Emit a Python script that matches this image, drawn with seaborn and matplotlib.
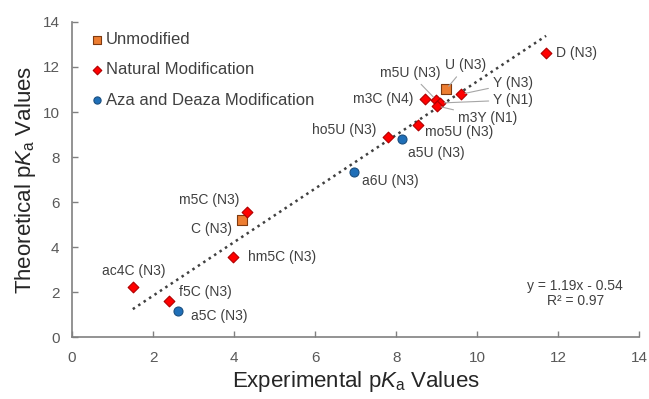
import numpy as np
import pandas as pd
import matplotlib.pyplot as plt
import seaborn as sns

# values
names = ['D (N3)', 'U (N3)', 'm5U (N3)', 'Y (N3)', 'Y (N1)', 'm3C (N4)', 'm3Y (N1)',
         'mo5U (N3)', 'ho5U (N3)', 'a5U (N3)', 'a6U (N3)', 'm5C (N3)', 'C (N3)',
         'hm5C (N3)', 'ac4C (N3)', 'f5C (N3)', 'a5C (N3)']
experimental = [11.7, 9.23, 8.99, 9.6, 9.09, 8.72, 9.01, 8.54, 7.79, 8.14, 6.96,
                4.31, 4.19, 3.98, 1.5, 2.4, 2.62]
theoretical = [12.64, 11.0, 10.53, 10.79, 10.4, 10.58, 10.27, 9.42, 8.87, 8.8, 7.33,
               5.56, 5.2, 3.57, 2.24, 1.6, 1.16]
groups = ['Natural Modification', 'Unmodified', 'Natural Modification', 'Natural Modification',
          'Natural Modification', 'Natural Modification', 'Natural Modification',
          'Natural Modification', 'Natural Modification', 'Aza and Deaza Modification',
          'Aza and Deaza Modification', 'Natural Modification', 'Unmodified',
          'Natural Modification', 'Natural Modification', 'Natural Modification',
          'Aza and Deaza Modification']
group_order = ['Unmodified', 'Natural Modification', 'Aza and Deaza Modification']
fit_slope = 1.19
fit_intercept = -0.54
fit_r2 = 0.97

df = pd.DataFrame({'name': names, 'exp': experimental, 'theo': theoretical, 'group': groups})

sns.set_theme(style='ticks')
plt.rcParams['font.family'] = ['Liberation Sans', 'DejaVu Sans']
plt.rcParams['mathtext.fontset'] = 'custom'
plt.rcParams['mathtext.rm'] = 'Liberation Sans'
plt.rcParams['mathtext.it'] = 'Liberation Sans:italic'

fig = plt.figure(figsize=(6.49, 3.99), dpi=100)
ax = fig.add_axes([0.111, 0.155, 0.874, 0.79])

styles = {
    'Unmodified': dict(marker='s', color='#ED7D31', ec='#7F3A10', s=42),
    'Natural Modification': dict(marker='D', color='#FF0000', ec='#B00000', s=30),
    'Aza and Deaza Modification': dict(marker='o', color='#1F6FB8', ec='#1A4F80', s=42),
}

# trendline
xs = np.array([min(experimental), max(experimental)])
ax.plot(xs, fit_slope * xs + fit_intercept, linestyle=(0, (1, 1.6)), color='#404040', lw=1.8, zorder=1)

for g in group_order:
    st = styles[g]
    sns.scatterplot(data=df[df.group == g], x='exp', y='theo', ax=ax, marker=st['marker'],
                    color=st['color'], edgecolor=st['ec'], linewidth=0.8, s=st['s'],
                    label=g, zorder=3)

# label offsets in pixels (dx, dy, ha, leader)
offsets = {
    'D (N3)': (10, 0, 'left', False),
    'U (N3)': (20, 24, 'center', True),
    'm5U (N3)': (-26, 27, 'center', True),
    'Y (N3)': (32, 11, 'left', True),
    'Y (N1)': (53, 3, 'left', True),
    'm3C (N4)': (-12, 0, 'right', False),
    'm3Y (N1)': (21, -12, 'left', True),
    'mo5U (N3)': (7, -7, 'left', False),
    'ho5U (N3)': (-11, 7, 'right', False),
    'a5U (N3)': (6, -14, 'left', False),
    'a6U (N3)': (8, -9, 'left', False),
    'm5C (N3)': (-7, 12, 'right', False),
    'C (N3)': (-10, -9, 'right', False),
    'hm5C (N3)': (15, 0, 'left', False),
    'ac4C (N3)': (1, 16, 'center', False),
    'f5C (N3)': (10, 9, 'left', False),
    'a5C (N3)': (13, -5, 'left', False),
}
for n, x, y in zip(names, experimental, theoretical):
    dx, dy, ha, leader = offsets[n]
    kw = {}
    if leader:
        kw['arrowprops'] = dict(arrowstyle='-', color='#a6a6a6', lw=0.8, shrinkA=1, shrinkB=3)
    ax.annotate(n, (x, y), xytext=(dx, dy), textcoords='offset pixels', ha=ha, va='center',
                fontsize=10, color='#404040', zorder=4, **kw)

ax.text(12.42, 1.93, f'y = {fit_slope}x - {abs(fit_intercept)}\nR² = {fit_r2}', ha='center',
        va='center', multialignment='center', fontsize=10, color='#404040', linespacing=1.05)

ax.set_xlim(0, 14)
ax.set_ylim(0, 14)
ax.set_xticks(range(0, 15, 2))
ax.set_yticks(range(0, 15, 2))
ax.tick_params(direction='in', length=4, width=1, color='#808080', labelsize=11,
               labelcolor='#595959')
ax.tick_params(axis='y', pad=9)
ax.tick_params(axis='x', pad=10)
for s in ['top', 'right']:
    ax.spines[s].set_visible(False)
for s in ['left', 'bottom']:
    ax.spines[s].set_color('#808080')
    ax.spines[s].set_linewidth(1.2)

ax.set_xlabel(r'Experimental p$\mathit{K}_\mathrm{a}$ Values', fontsize=16, color='#262626', labelpad=3)
ax.set_ylabel(r'Theoretical p$\mathit{K}_\mathrm{a}$ Values', fontsize=16, color='#262626', labelpad=3)

ax.legend(loc='upper left', bbox_to_anchor=(0.012, 1.0), frameon=False, fontsize=12,
          handletextpad=0.0, labelspacing=0.92, borderaxespad=0.2, markerscale=0.8,
          handlelength=1.0, labelcolor='#404040')

fig.savefig('out.png', dpi=100)
